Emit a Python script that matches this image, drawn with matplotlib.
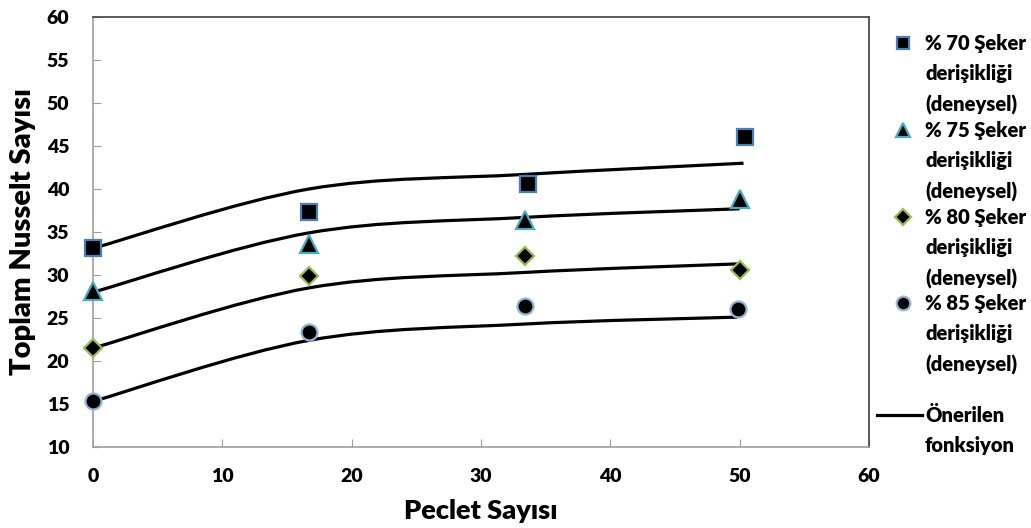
import numpy as np
import matplotlib
matplotlib.use("Agg")
import matplotlib.pyplot as plt
from matplotlib.path import Path
from matplotlib.patches import PathPatch
from matplotlib.lines import Line2D

plt.rcParams['font.family'] = ['Lato', 'DejaVu Sans']
plt.rcParams['font.weight'] = 'heavy'

# deneysel veriler
x70 = [0, 16.7, 33.6, 50.4]
y70 = [33.1, 37.3, 40.6, 46.0]
x75 = [0, 16.7, 33.4, 50.0]
y75 = [28.1, 33.6, 36.4, 38.8]
x80 = [0, 16.7, 33.4, 50.0]
y80 = [21.5, 29.9, 32.2, 30.6]
x85 = [0, 16.7, 33.4, 49.9]
y85 = [15.3, 23.4, 26.4, 26.1]

# önerilen fonksiyon (yumuşatılmış çizgi)
fx70 = [0, 16.7, 33.4, 50.3]
fy70 = [33.1, 40.0, 41.7, 43.0]
fx75 = [0, 16.7, 33.4, 50.0]
fy75 = [28.0, 34.9, 36.7, 37.7]
fx80 = [0, 16.7, 33.4, 50.0]
fy80 = [21.5, 28.5, 30.3, 31.3]
fx85 = [0, 16.7, 33.4, 49.8]
fy85 = [15.3, 22.4, 24.3, 25.1]

labels = ['% 70 Şeker\nderişikliği\n(deneysel)',
          '% 75 Şeker\nderişikliği\n(deneysel)',
          '% 80 Şeker\nderişikliği\n(deneysel)',
          '% 85 Şeker\nderişikliği\n(deneysel)',
          'Önerilen\nfonksiyon']


def smooth_path(xs, ys):
    # excel tarzı yumuşatma: catmull-rom -> bezier
    p = np.column_stack([xs, ys]).astype(float)
    pts = np.vstack([p[0], p, p[-1]])
    verts = [p[0]]
    codes = [Path.MOVETO]
    for i in range(1, len(pts) - 2):
        c1 = pts[i] + (pts[i + 1] - pts[i - 1]) / 6.0
        c2 = pts[i + 1] - (pts[i + 2] - pts[i]) / 6.0
        verts += [c1, c2, pts[i + 1]]
        codes += [Path.CURVE4] * 3
    return Path(verts, codes)


fig = plt.figure(figsize=(10.31, 5.28), dpi=100)
ax = fig.add_axes([93 / 1031, 1 - 447 / 528, 776 / 1031, 430 / 528])

for fx, fy in [(fx70, fy70), (fx75, fy75), (fx80, fy80), (fx85, fy85)]:
    ax.add_patch(PathPatch(smooth_path(fx, fy), facecolor='none',
                           edgecolor='black', lw=2.3, zorder=2))

styles = [
    dict(marker='s', ms=11, mec='#4a7ebb', mew=1.6),
    dict(marker='^', ms=12.5, mec='#4bacc6', mew=1.6),
    dict(marker='D', ms=9, mec='#9bbb59', mew=1.6),
    dict(marker='o', ms=11.5, mec='#95b3d7', mew=1.6),
]
for (xs, ys), st in zip([(x70, y70), (x75, y75), (x80, y80), (x85, y85)], styles):
    ax.plot(xs, ys, ls='none', mfc='black', zorder=3, clip_on=False, **st)

ax.set_xlim(0, 60)
ax.set_ylim(10, 60)
ax.set_xticks(range(0, 61, 10))
ax.set_yticks(range(10, 61, 5))
ax.tick_params(direction='in', length=6, color='#a0a0a0', labelsize=14, pad=15)
ax.tick_params(axis='y', pad=17)
for lab in ax.get_xticklabels() + ax.get_yticklabels():
    lab.set_fontweight('heavy')
ax.spines['left'].set_color('#a0a0a0')
ax.spines['bottom'].set_color('#a0a0a0')
ax.spines['top'].set_color('#404040')
ax.spines['right'].set_color('#404040')
for s in ax.spines.values():
    s.set_linewidth(1.2)

ax.set_xlabel('Peclet Sayısı', fontsize=19.5, fontweight='heavy', labelpad=10)
ax.set_ylabel('Toplam Nusselt Sayısı', fontsize=21, fontweight='heavy', labelpad=8)

# elle çizilmiş gösterge
leg_y = [43, 130, 217, 303]
small = [dict(st, ms=st['ms'] * 0.85) for st in styles]
for st, yy, lab in zip(small, leg_y, labels[:4]):
    yf = 1 - yy / 528
    fig.add_artist(Line2D([903 / 1031], [yf], ls='none', mfc='black',
                          transform=fig.transFigure, **st))
    fig.text(925 / 1031, yf + 9 / 528, lab, fontsize=14.5, fontweight='heavy',
             va='top', ha='left', linespacing=1.7)
yl = 1 - 415 / 528
fig.add_artist(Line2D([877 / 1031, 922 / 1031], [yl, yl], color='black', lw=2.3,
                      transform=fig.transFigure))
fig.text(925 / 1031, yl + 9 / 528, labels[4], fontsize=14.5, fontweight='heavy',
         va='top', ha='left', linespacing=1.7)

fig.savefig('out.png', dpi=100)
